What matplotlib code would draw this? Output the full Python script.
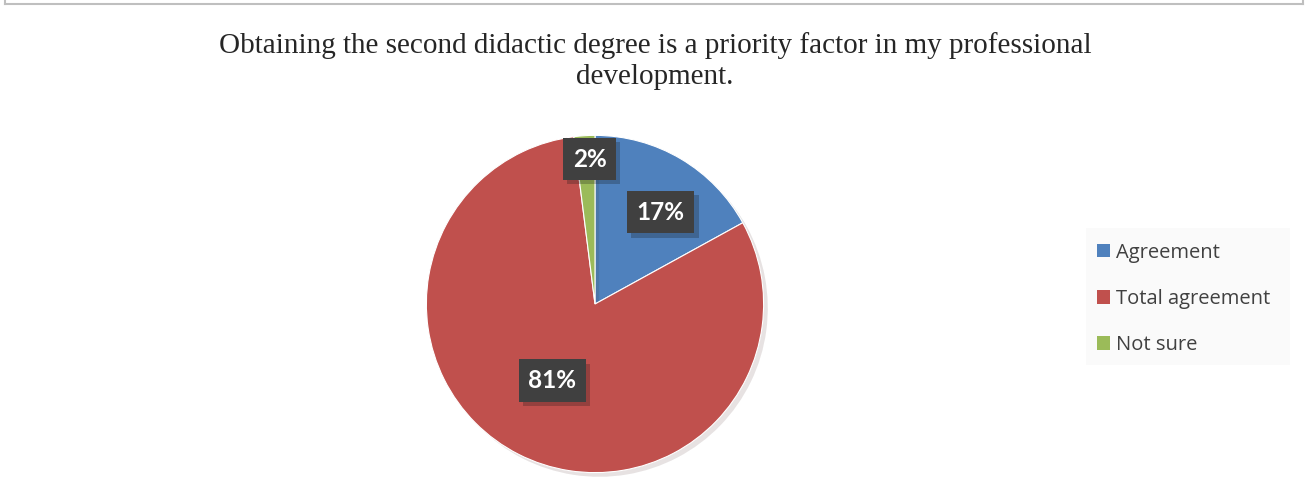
import numpy as np
import matplotlib.pyplot as plt
from matplotlib.patches import Rectangle
from matplotlib.lines import Line2D
import matplotlib.patheffects as pe

labels = ["Agreement", "Total agreement", "Not sure"]
values = [17, 81, 2]
colors = ["#4F81BD", "#C0504D", "#9BBB59"]
label_dist = [0.67, 0.52, 0.86]
label_shift = [-5, -2, -1.5]

W, H = 1305, 494
fig = plt.figure(figsize=(W / 100, H / 100), dpi=100)

# outer chart frame (left, top, right)
for xs, ys in [([5, 5], [0, 4]), ([5, 1303], [4, 4]), ([1303, 1303], [4, 0])]:
    fig.add_artist(Line2D([x / W for x in xs], [1 - y / H for y in ys],
                          color="#BFBFBF", lw=1.5))

fig.text(655 / W, 1 - 61 / H,
         "Obtaining the second didactic degree is a priority factor in my professional\ndevelopment.",
         ha="center", va="center", family="Liberation Serif", fontsize=21,
         color="#262626", linespacing=1.25)

cx, cy, r = 595, 304, 172
ax = fig.add_axes([(cx - r) / W, (H - cy - r) / H, 2 * r / W, 2 * r / H])
wedges, _ = ax.pie(values, colors=colors, startangle=90, counterclock=False,
                   radius=1, wedgeprops=dict(edgecolor="white", linewidth=0.8))
for w in wedges:
    w.set_path_effects([pe.SimplePatchShadow(offset=(3, -3), alpha=0.12), pe.Normal()])
ax.set_xlim(-1.02, 1.02)
ax.set_ylim(-1.02, 1.02)
ax.set_aspect("equal")
ax.axis("off")

for w, v, d, s in zip(wedges, values, label_dist, label_shift):
    ang = np.deg2rad((w.theta1 + w.theta2) / 2 + s)
    t = ax.text(d * np.cos(ang), d * np.sin(ang), f"{v}%", ha="center", va="center",
                family="Lato", weight="bold", fontsize=17.5, color="white",
                bbox=dict(boxstyle="square,pad=0.4", fc="#404040", ec="none"))
    t.get_bbox_patch().set_path_effects(
        [pe.SimplePatchShadow(offset=(3, -3), alpha=0.25), pe.Normal()])

# legend
lx, ly = 1086 / W, 1 - 365 / H
fig.add_artist(Rectangle((lx, ly), 204 / W, 137 / H, transform=fig.transFigure,
                         fc="#FAFAFA", ec="none"))
handles = [Rectangle((0, 0), 1, 1, fc=c, ec="none") for c in colors]
fig.legend(handles, labels, loc="center left", bbox_to_anchor=(1079 / W, 1 - 299 / H),
           frameon=False, prop=dict(family="Open Sans", size=14.5),
           handlelength=0.65, handleheight=0.65, handletextpad=0.3, labelspacing=1.3,
           labelcolor="#404040")

fig.savefig("out.png", dpi=100)
